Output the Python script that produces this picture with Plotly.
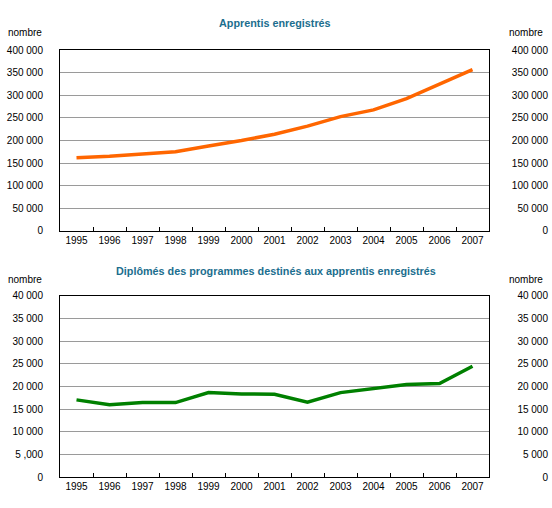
import plotly.graph_objects as go

W, H = 552, 508

years = ["1995", "1996", "1997", "1998", "1999", "2000", "2001",
         "2002", "2003", "2004", "2005", "2006", "2007"]
apprentis = [162000, 165000, 170000, 175000, 188000, 200000, 214000,
             232000, 253000, 268000, 293000, 326000, 357000]
diplomes = [17050, 16000, 16450, 16450, 18650, 18350, 18300,
            16550, 18650, 19550, 20450, 20650, 24450]

top_tickvals = [0, 50000, 100000, 150000, 200000, 250000, 300000, 350000, 400000]
top_ticktext = ["0", "50 000", "100 000", "150 000", "200 000", "250 000",
                "300 000", "350 000", "400 000"]
bot_tickvals = [0, 5000, 10000, 15000, 20000, 25000, 30000, 35000, 40000]
bot_ticktext_left = ["0", "5 ,000", "10 000", "15 000", "20 000", "25 000",
                     "30 000", "35 000", "40 000"]
bot_ticktext_right = ["0", "5 000", "10 000", "15 000", "20 000", "25 000",
                      "30 000", "35 000", "40 000"]

title_top = "Apprentis enregistrés"
title_bot = "Diplômés des programmes destinés aux apprentis enregistrés"
unit = "nombre"

ORANGE = "#FF6600"
GREEN = "#008000"
TEAL = "#1B6E8E"
GRID = "#9A9A9A"
FONT = "Liberation Sans, Arial, sans-serif"
TFONT = "Liberation Sans Narrow, Arial Narrow, Liberation Sans, Arial, sans-serif"

px_x = lambda p: p / W
px_y = lambda p: 1 - p / H

x_dom = [px_x(60), px_x(489)]
top_dom = [px_y(230.3), px_y(45.3)]
bot_dom = [px_y(482.7), px_y(296.7)]

fig = go.Figure()
fig.add_trace(go.Scatter(x=years, y=apprentis, mode="lines", xaxis="x", yaxis="y",
                         line=dict(color=ORANGE, width=3.5), hoverinfo="skip", showlegend=False))
fig.add_trace(go.Scatter(x=years, y=apprentis, mode="lines", xaxis="x", yaxis="y2",
                         line=dict(color="rgba(0,0,0,0)", width=0), hoverinfo="skip", showlegend=False))
fig.add_trace(go.Scatter(x=years, y=diplomes, mode="lines", xaxis="x2", yaxis="y3",
                         line=dict(color=GREEN, width=3.5), hoverinfo="skip", showlegend=False))
fig.add_trace(go.Scatter(x=years, y=diplomes, mode="lines", xaxis="x2", yaxis="y4",
                         line=dict(color="rgba(0,0,0,0)", width=0), hoverinfo="skip", showlegend=False))

xcommon = dict(domain=x_dom, type="category", tickson="boundaries", ticks="inside",
               ticklen=4, tickcolor="black", showline=True, mirror=True, linecolor="black",
               linewidth=1, showgrid=False, tickfont=dict(size=10, color="black", family=FONT),
               fixedrange=True, range=[-0.5, 12.5])
yleft = dict(showline=True, mirror=True, linecolor="black", linewidth=1, showgrid=True,
             gridcolor=GRID, gridwidth=1, zeroline=False, ticks="",
             tickfont=dict(size=10, color="black", family=FONT), ticklabelstandoff=14,
             fixedrange=True)
yright = dict(anchor="free", position=px_x(548), side="left", showline=False, showgrid=False,
              zeroline=False, ticks="", tickfont=dict(size=10, color="black", family=FONT),
              fixedrange=True)

def ann(text, x, y, xanchor, size, color, family, bold=False):
    f = dict(family=family, size=size, color=color)
    if bold:
        f["weight"] = "bold"
    return dict(text=text, x=px_x(x), y=px_y(y), xref="paper", yref="paper",
                xanchor=xanchor, yanchor="middle", showarrow=False, font=f)

fig.update_layout(
    width=W, height=H, margin=dict(l=0, r=0, t=0, b=0),
    paper_bgcolor="white", plot_bgcolor="white",
    xaxis=dict(anchor="y", **xcommon),
    yaxis=dict(domain=top_dom, anchor="x", range=[0, 400000], tickmode="array",
               tickvals=top_tickvals, ticktext=top_ticktext, **yleft),
    yaxis2=dict(domain=top_dom, overlaying="y", range=[0, 400000], tickmode="array",
                tickvals=top_tickvals, ticktext=top_ticktext, **yright),
    xaxis2=dict(anchor="y3", **xcommon),
    yaxis3=dict(domain=bot_dom, anchor="x2", range=[0, 40000], tickmode="array",
                tickvals=bot_tickvals, ticktext=bot_ticktext_left, **yleft),
    yaxis4=dict(domain=bot_dom, overlaying="y3", range=[0, 40000], tickmode="array",
                tickvals=bot_tickvals, ticktext=bot_ticktext_right, **yright),
    annotations=[
        ann(title_top, 275, 17, "center", 10.8, TEAL, TFONT, True),
        ann(title_bot, 276, 271.5, "center", 10.8, TEAL, TFONT, True),
        ann(unit, 6, 27.5, "left", 10, "black", FONT),
        ann(unit, 545, 27.5, "right", 10, "black", FONT),
        ann(unit, 6, 280.5, "left", 10, "black", FONT),
        ann(unit, 545, 280.5, "right", 10, "black", FONT),
    ],
)

fig.write_html("out.html")
